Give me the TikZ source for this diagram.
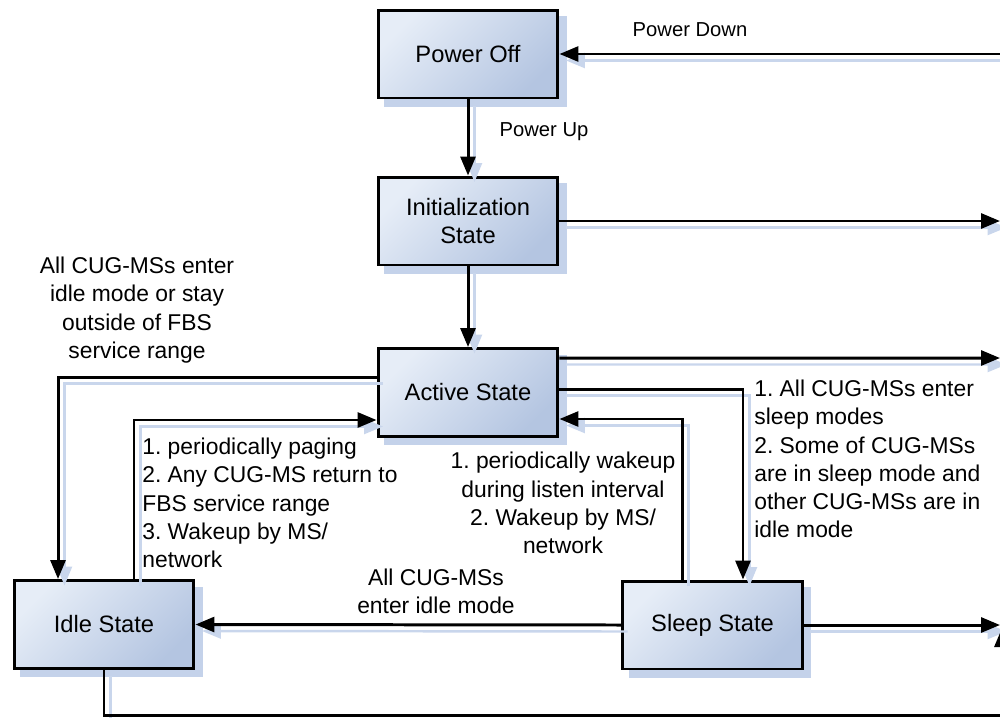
\documentclass[tikz,border=0pt]{standalone}
\usepackage{fontspec}
\setmainfont{Liberation Sans}
\usetikzlibrary{arrows.meta, shadows}
\frenchspacing

\definecolor{boxlight}{HTML}{E6EDF7}
\definecolor{boxdark}{HTML}{B4C5E1}
\definecolor{shadowblue}{HTML}{C4D2EA}
\definecolor{lineshadow}{HTML}{C9D6EC}

\tikzset{
  state/.style={draw=black, line width=1.7pt, left color=boxlight, right color=boxdark, shading angle=45,
    minimum width=3.6cm, minimum height=1.76cm, align=center, font=\fontsize{13.5}{16}\selectfont,
    general shadow={fill=shadowblue, draw=shadowblue, line width=1.7pt, shadow xshift=0.15cm, shadow yshift=-0.15cm}},
  link/.style={line width=1.7pt, -{Triangle[length=0.38cm,width=0.3cm]},
    preaction={draw=lineshadow, line width=1.4pt, transform canvas={shift={(0.13cm,-0.13cm)}}}},
  note/.style={font=\fontsize{13}{16.1}\selectfont, inner sep=0pt},
  small/.style={font=\fontsize{11.5}{14}\selectfont, inner sep=0pt}
}

\begin{document}
\begin{tikzpicture}[x=0.02cm, y=-0.02cm]
    \useasboundingbox (0,0) rectangle (1000,717);
    \clip (0,0) rectangle (1000,717);

    % states
    \node[state] (off) at (468,54) {Power Off};
    \node[state] (init) at (468,221) {Initialization\\State};
    \node[state] (act) at (468,392.5) {Active State};
    \node[state] (idle) at (104,624.5) {Idle State};
    \node[state] (sleep) at (712.5,625) {Sleep State};

    % loose ends at the right border
    \coordinate (pd) at (1010,54);
    \coordinate (ri) at (1000,221);
    \coordinate (ra) at (1000,358);
    \coordinate (rs) at (1000,625);
    \coordinate (rb) at (1002,715);
    \coordinate (rt) at (1002,628);

    % connectors
    \draw[link] (pd) -- (off.east);
    \draw[link] (off) -- (init);
    \draw[link] (init.east) -- (ri);
    \draw[link] (init) -- (act);
    \draw[link] ([yshift=0.69cm]act.east) -- (ra);
    \draw[link] ([yshift=0.07cm]act.east) -| ([xshift=0.61cm]sleep.north);
    \draw[link] ([xshift=-0.61cm]sleep.north) |- ([yshift=-0.53cm]act.east);
    \draw[link] ([yshift=0.31cm]act.west) -| ([xshift=-0.92cm]idle.north);
    \draw[link] ([xshift=0.6cm]idle.north) |- ([yshift=-0.55cm]act.west);
    \draw[link] (sleep.west) -- (idle.east);
    \draw[link] (sleep.east) -- (rs);
    \draw[link] (idle.south) |- (rb) -- (rt);

    % labels
    \node[small] (lpd) at (690,30) {Power Down};
    \node[small] (lpu) at (544,132) {Power Up};
    \node[note, align=center] (lidle) at (137,310) {All CUG-MSs enter\\idle mode or stay\\outside of FBS\\service range};
    \node[note, align=left, anchor=west] (lpage) at (142,503) {1. periodically paging\\2. Any CUG-MS return to\\FBS service range\\3. Wakeup by MS/\\network};
    \node[note, align=center] (lwake) at (563,503) {1. periodically wakeup\\during listen interval\\2. Wakeup by MS/\\network};
    \node[note, align=left, anchor=west] (lsleep) at (754,459) {1. All CUG-MSs enter\\sleep modes\\2. Some of CUG-MSs\\are in sleep mode and\\other CUG-MSs are in\\idle mode};
    \node[note, align=center] (lenter) at (436,591.5) {All CUG-MSs\\enter idle mode};
\end{tikzpicture}
\end{document}
